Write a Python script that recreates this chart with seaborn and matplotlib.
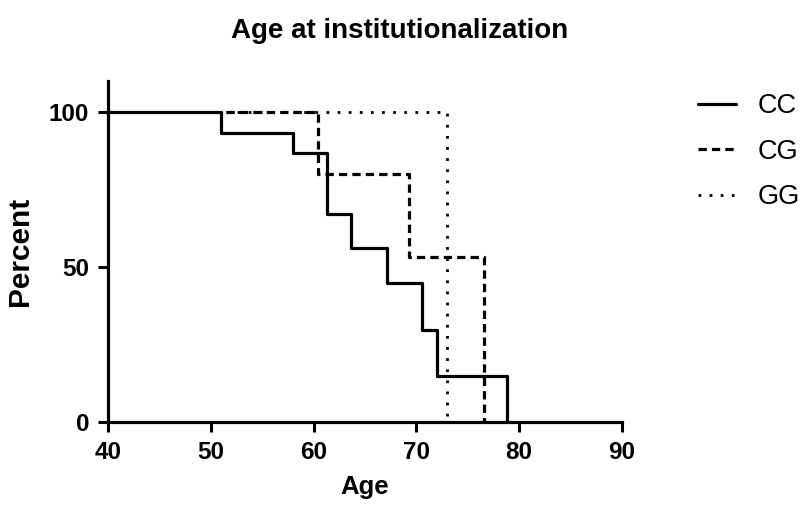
import matplotlib
matplotlib.use("Agg")
import matplotlib.pyplot as plt
import seaborn as sns
import pandas as pd

# Kaplan-Meier style step data
cc_age = [40, 51.0, 58.0, 61.3, 63.6, 67.1, 70.5, 72.0, 78.8]
cc_pct = [100, 93.3, 86.7, 67.0, 56.0, 44.8, 29.8, 14.9, 0]
cg_age = [51.5, 60.4, 69.3, 76.6]
cg_pct = [100, 80.0, 53.3, 0]
gg_age = [51.5, 73.0]
gg_pct = [100, 0]
groups = ["CC", "CG", "GG"]
x_ticks = [40, 50, 60, 70, 80, 90]
y_ticks = [0, 50, 100]

sns.set_theme(style="ticks")
plt.rcParams["font.family"] = ["Liberation Sans", "DejaVu Sans"]
for k in ["text.color", "axes.labelcolor", "xtick.color", "ytick.color", "axes.edgecolor"]:
    plt.rcParams[k] = "black"

fig = plt.figure(figsize=(8, 5.12), dpi=100)
ax = fig.add_axes([0.135, 0.176, 0.6425, 0.666])

series = {"CC": (cc_age, cc_pct), "CG": (cg_age, cg_pct), "GG": (gg_age, gg_pct)}
styles = {
    "CC": dict(linestyle="-", linewidth=2.3, zorder=3),
    "CG": dict(linestyle=(0, (2.6, 1.6)), linewidth=2.3, zorder=2),
    "GG": dict(linestyle=(0, (1, 3)), linewidth=2.0, zorder=2),
}
handles = []
for g in groups:
    a, p = series[g]
    df = pd.DataFrame({"Age": a, "Percent": p})
    sns.lineplot(data=df, x="Age", y="Percent", ax=ax, color="black",
                 drawstyle="steps-post", estimator=None, sort=False,
                 **styles[g])
    handles.append(ax.lines[-1])

ax.set_xlim(40, 90)
ax.set_ylim(0, 110)
ax.set_xticks(x_ticks)
ax.set_yticks(y_ticks)
ax.set_xticklabels([str(t) for t in x_ticks], fontsize=17.5, fontweight="bold")
ax.set_yticklabels([str(t) for t in y_ticks], fontsize=17.5, fontweight="bold")
ax.tick_params(axis="both", width=2.2, length=7.5, color="black", pad=6)
for s in ["left", "bottom"]:
    ax.spines[s].set_linewidth(2.3)
sns.despine(ax=ax)
ax.spines["left"].set_bounds(0, 110)

ax.set_xlabel("Age", fontsize=18.5, fontweight="bold", labelpad=8)
ax.set_ylabel("Percent", fontsize=21.5, fontweight="bold", labelpad=11)
fig.suptitle("Age at institutionalization", fontsize=20, fontweight="bold", x=0.5, y=0.965)

leg = fig.legend(handles, groups, loc="upper left", bbox_to_anchor=(0.8725, 0.818),
                 frameon=False, fontsize=19.5, handlelength=1.4, labelspacing=0.72,
                 handletextpad=0.8, borderpad=0, borderaxespad=0)

fig.savefig("out.png", dpi=100)
